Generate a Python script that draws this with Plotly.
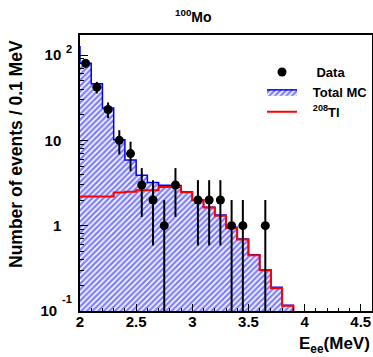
import numpy as np
import plotly.graph_objects as go

# ---------------- data ----------------
BIN_W = 0.1
# Total MC histogram: lower bin edges (MeV) and contents
mc_lo = [1.9, 2.0, 2.1, 2.2, 2.3, 2.4, 2.5, 2.6, 2.7, 2.8,
         2.9, 3.0, 3.1, 3.2, 3.3, 3.4, 3.5, 3.6, 3.7, 3.8]
total_mc = [125, 80, 46, 24, 10.2, 5.9, 3.9, 3.2, 2.97, 2.95,
            2.5, 2.0, 1.65, 1.33, 0.96, 0.70, 0.455, 0.305, 0.19, 0.117]
# 208Tl histogram
tl_lo = [2.0, 2.1, 2.2, 2.3, 2.4, 2.5, 2.6, 2.7, 2.8,
         2.9, 3.0, 3.1, 3.2, 3.3, 3.4, 3.5, 3.6, 3.7, 3.8]
tl208 = [2.2, 2.2, 2.2, 2.45, 2.5, 2.6, 2.6, 2.85, 2.85,
         2.46, 1.98, 1.63, 1.31, 0.94, 0.69, 0.45, 0.30, 0.185, 0.115]
# Data points (bin centres, counts)
data_x = [2.05, 2.15, 2.25, 2.35, 2.45, 2.55, 2.65, 2.75, 2.85,
          3.05, 3.15, 3.25, 3.35, 3.45, 3.65]
data_y = [80, 42, 23, 10, 7, 3, 2, 1, 3, 2, 2, 2, 1, 1, 1]

x_ticks = [2, 2.5, 3, 3.5, 4, 4.5]
x_ticktext = ["2", "2.5", "3", "3.5", "4", "4.5"]
y_ticks = [0.1, 1, 10, 100]
y_ticktext = ["10\u00a0", "1", "10", "10"]

EMPTY = 1e-4  # content used for an empty bin on the log scale


def step_xy(lo, vals):
    x = list(np.round(lo, 3)) + [round(lo[-1] + BIN_W, 3)] * 2
    y = list(vals) + [vals[-1], EMPTY]
    return x, y


FONT = "Liberation Sans"
PAD = "\u00a0\u00a0\u00a0"
fig = go.Figure()

mx, my = step_xy(mc_lo, total_mc)
fig.add_trace(go.Scatter(
    x=mx, y=my, mode="lines", line=dict(shape="hv", color="#0000ff", width=1.5),
    fill="tozeroy", fillcolor="white",
    fillpattern=dict(shape="/", fgcolor="#0000ff", bgcolor="white", size=4, solidity=0.6),
    name=PAD + "Total MC", legendrank=2))

tx, ty = step_xy(tl_lo, tl208)
fig.add_trace(go.Scatter(
    x=tx, y=ty, mode="lines", line=dict(shape="hv", color="#ff0000", width=2),
    name=PAD + "<sup>208</sup>Tl", legendrank=3))

err = list(np.sqrt(data_y))
fig.add_trace(go.Scatter(
    x=data_x, y=data_y, mode="markers",
    marker=dict(color="black", size=9),
    error_y=dict(type="data", array=err, symmetric=True, color="black", thickness=2, width=0),
    name=PAD + "\u00a0Data", legendrank=1))

W, H = 373, 357
L, R, T, B = 80, 1, 35, 46
PW, PH = W - L - R, H - T - B  # plot area size


def px_x(px):  # page pixel -> paper x
    return (px - L) / PW


def px_y(py):  # page pixel -> paper y
    return 1 - (py - T) / PH


fig.update_layout(
    width=W, height=H,
    margin=dict(l=L, r=R, t=T, b=B, autoexpand=False),
    plot_bgcolor="white", paper_bgcolor="white",
    font=dict(family=FONT, size=15, color="black", weight="bold"),
    showlegend=True,
    legend=dict(x=px_x(262), y=px_y(57), xanchor="left", yanchor="top",
                bgcolor="rgba(0,0,0,0)", font=dict(size=13, family=FONT, weight="bold"),
                itemwidth=30, tracegroupgap=0),
)

fig.update_xaxes(
    range=[2, 4.6], tickvals=x_ticks, ticktext=x_ticktext,
    ticks="inside", ticklen=7, tickwidth=1, tickcolor="black",
    minor=dict(ticks="inside", ticklen=3.5, dtick=0.1, tick0=2, tickcolor="black"),
    showline=True, mirror=True, linecolor="black", linewidth=1.5,
    showgrid=False, zeroline=False, automargin=False, ticklabelstandoff=-4,
    tickfont=dict(size=15, family=FONT, weight="bold"),
)
minor_y = [m * d for d in (0.1, 1, 10) for m in range(2, 10)] + [200]
fig.update_yaxes(
    type="log", range=[-1, 2.235], tickvals=y_ticks, ticktext=y_ticktext,
    ticks="inside", ticklen=8, tickwidth=1, tickcolor="black",
    minor=dict(ticks="inside", ticklen=4, tickmode="array", tickvals=minor_y, tickcolor="black"),
    showline=True, mirror=True, linecolor="black", linewidth=1.5,
    showgrid=False, zeroline=False, ticklabelstandoff=14, automargin=False,
    tickfont=dict(size=15, family=FONT, weight="bold"),
)

ann_font = dict(family=FONT, weight="bold")
# exponents of the tick labels
fig.add_annotation(text="2", xref="paper", yref="paper", x=px_x(69), y=px_y(49),
                   xanchor="center", yanchor="middle", showarrow=False,
                   font=dict(size=11, **ann_font))
fig.add_annotation(text="-1", xref="paper", yref="paper", x=px_x(67), y=px_y(299),
                   xanchor="center", yanchor="middle", showarrow=False,
                   font=dict(size=11, **ann_font))
# title
fig.add_annotation(text="<sup>100</sup>Mo", xref="paper", yref="paper",
                   x=px_x(193), y=px_y(16), xanchor="center", yanchor="middle",
                   showarrow=False, font=dict(size=14, **ann_font))
# axis titles
fig.add_annotation(text="E<sub>ee</sub>(MeV)", xref="paper", yref="paper",
                   x=1, y=px_y(345), xanchor="right", yanchor="middle",
                   showarrow=False, font=dict(size=17, **ann_font))
fig.add_annotation(text="Number of events / 0.1 MeV", xref="paper", yref="paper",
                   x=px_x(16), y=px_y(38), textangle=-90,
                   xanchor="center", yanchor="top",
                   showarrow=False, font=dict(size=17.5, **ann_font))

fig.write_html(
    "out.html",
    config={"displayModeBar": False},
    post_script="document.body.style.margin='0';document.body.style.overflow='hidden';",
)
